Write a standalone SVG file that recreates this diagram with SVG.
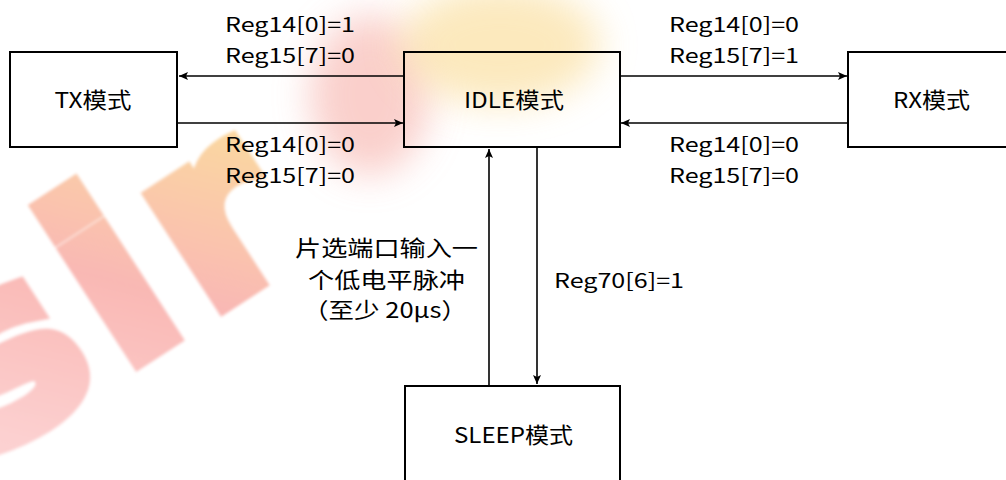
<svg xmlns="http://www.w3.org/2000/svg" width="1006" height="480" viewBox="0 0 1006 480">
  <defs>
    <marker id="arr" markerWidth="10" markerHeight="8" refX="9" refY="4" orient="auto" markerUnits="userSpaceOnUse">
      <path d="M0,0 L9,4 L0,8 L2,4 Z" fill="#000"/>
    </marker>
    <linearGradient id="wm" gradientUnits="userSpaceOnUse" x1="0" y1="480" x2="520" y2="0">
      <stop offset="0" stop-color="#fdd9d9"/>
      <stop offset="0.5" stop-color="#fcd0d0"/>
      <stop offset="0.75" stop-color="#f9b8b4"/>
      <stop offset="1" stop-color="#fad8a0"/>
    </linearGradient>
    <filter id="blur" x="-50%" y="-50%" width="200%" height="200%">
      <feGaussianBlur stdDeviation="18"/>
    </filter>
    <filter id="soft" x="-10%" y="-10%" width="120%" height="120%">
      <feGaussianBlur stdDeviation="1.5"/>
    </filter>
    <style>
      .box { fill: none; stroke: #000; stroke-width: 2; }
      .line { fill: none; stroke: #000; stroke-width: 1.6; marker-end: url(#arr); }
      .t { font-family: "Noto Sans CJK SC", "Liberation Sans", sans-serif; fill: #000; }
      .lbl { font-size: 20px; }
      .node { font-size: 22px; text-anchor: middle; }
      .cn { font-size: 22px; text-anchor: middle; }
      .wm { font-family: "DejaVu Sans", sans-serif; font-weight: bold; font-size: 240px; letter-spacing: 19px; stroke-width: 16; stroke-linejoin: miter; }
    </style>
  </defs>

  <rect width="1006" height="480" fill="#fff"/>

  <g id="watermark">
    <ellipse cx="370" cy="95" rx="60" ry="80" fill="#f8bcb6" opacity="0.7" filter="url(#blur)"/>
    <ellipse cx="500" cy="45" rx="100" ry="60" fill="#fbe2a8" opacity="0.75" filter="url(#blur)"/>
    <text class="wm" transform="translate(-14,460) rotate(-33)" fill="url(#wm)" stroke="url(#wm)" filter="url(#soft)">sir</text>
  </g>

  <g id="connectors">
    <line class="line" x1="404" y1="76" x2="179" y2="76"/>
    <line class="line" x1="177" y1="123" x2="403" y2="123"/>
    <line class="line" x1="620" y1="76" x2="847" y2="76"/>
    <line class="line" x1="848" y1="123" x2="621" y2="123"/>
    <line class="line" x1="489" y1="386" x2="489" y2="149"/>
    <line class="line" x1="537" y1="147" x2="537" y2="384"/>
    <g id="labels">
      <text class="t lbl" x="225" y="32" textLength="130" lengthAdjust="spacingAndGlyphs">Reg14[0]=1</text>
      <text class="t lbl" x="225" y="63" textLength="130" lengthAdjust="spacingAndGlyphs">Reg15[7]=0</text>
      <text class="t lbl" x="225" y="152" textLength="130" lengthAdjust="spacingAndGlyphs">Reg14[0]=0</text>
      <text class="t lbl" x="225" y="183" textLength="130" lengthAdjust="spacingAndGlyphs">Reg15[7]=0</text>
      <text class="t lbl" x="669" y="32" textLength="130" lengthAdjust="spacingAndGlyphs">Reg14[0]=0</text>
      <text class="t lbl" x="669" y="63" textLength="130" lengthAdjust="spacingAndGlyphs">Reg15[7]=1</text>
      <text class="t lbl" x="669" y="152" textLength="130" lengthAdjust="spacingAndGlyphs">Reg14[0]=0</text>
      <text class="t lbl" x="669" y="183" textLength="130" lengthAdjust="spacingAndGlyphs">Reg15[7]=0</text>
      <text class="t lbl" x="554" y="288" textLength="130" lengthAdjust="spacingAndGlyphs">Reg70[6]=1</text>
      <text class="t cn" x="386.5" y="256" textLength="183" lengthAdjust="spacingAndGlyphs">片选端口输入一</text>
      <text class="t cn" x="386.5" y="288" textLength="157" lengthAdjust="spacingAndGlyphs">个低电平脉冲</text>
      <text class="t cn" x="385" y="318" textLength="164" lengthAdjust="spacingAndGlyphs">（至少 20μs）</text>
    </g>
  </g>

  <g id="tx">
    <rect class="box" x="10" y="52" width="167" height="95"/>
    <text class="t node" x="93" y="108" textLength="77" lengthAdjust="spacingAndGlyphs">TX模式</text>
  </g>
  <g id="idle">
    <rect class="box" x="404" y="52" width="216" height="95"/>
    <text class="t node" x="514" y="108" textLength="100" lengthAdjust="spacingAndGlyphs">IDLE模式</text>
  </g>
  <g id="rx">
    <rect class="box" x="848" y="52" width="167" height="95"/>
    <text class="t node" x="931.5" y="108" textLength="77" lengthAdjust="spacingAndGlyphs">RX模式</text>
  </g>
  <g id="sleep">
    <rect class="box" x="405" y="386" width="215" height="110"/>
    <text class="t node" x="513.5" y="443" textLength="119" lengthAdjust="spacingAndGlyphs">SLEEP模式</text>
  </g>
</svg>
